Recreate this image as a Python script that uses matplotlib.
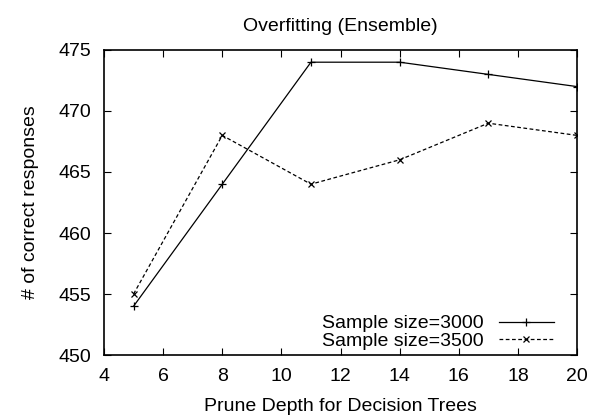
import matplotlib
matplotlib.use("Agg")
import matplotlib.pyplot as plt

plt.rcParams['font.family'] = ['Liberation Sans', 'DejaVu Sans']

depth = [5, 8, 11, 14, 17, 20]
size3000 = [454, 464, 474, 474, 473, 472]
size3500 = [455, 468, 464, 466, 469, 468]

fig = plt.figure(figsize=(5.92, 4.18), dpi=100)
ax = fig.add_axes([0.1757, 0.1507, 0.799, 0.7297])

ax.plot(depth, size3000, color='black', linewidth=0.9, marker='+', markersize=6,
        markeredgewidth=0.9, label='Sample size=3000')
ax.plot(depth, size3500, color='black', linewidth=0.9, linestyle=(0, (3, 2)), marker='x',
        markersize=4.5, markeredgewidth=0.9, label='Sample size=3500')

ax.set_xlim(4, 20)
ax.set_ylim(450, 475)
ax.set_xticks(range(4, 21, 2))
ax.set_yticks(range(450, 476, 5))
ax.tick_params(direction='in', top=True, right=True, labelsize=14, length=5, pad=9)
for s in ax.spines.values():
    s.set_linewidth(1.2)

ax.set_title('Overfitting (Ensemble)', fontsize=14, pad=14)
ax.set_xlabel('Prune Depth for Decision Trees', fontsize=14, labelpad=10)
ax.set_ylabel('# of correct responses', fontsize=14, labelpad=14)

ax.legend(loc='lower right', frameon=False, markerfirst=False, fontsize=14,
          handlelength=2.8, borderaxespad=1.1, labelspacing=0.0, handletextpad=0.8,
          borderpad=0.1, bbox_to_anchor=(1, -0.06))

fig.savefig('out.png', dpi=100)
